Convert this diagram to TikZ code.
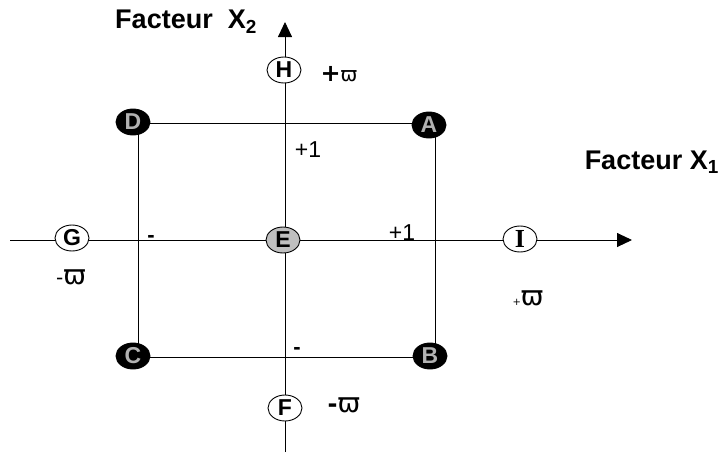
\documentclass[tikz,border=0pt]{standalone}
\usepackage{fontspec}
\setmainfont{Liberation Sans}
\newfontfamily\serifbold{Liberation Serif}
\newfontfamily\greekfont{DejaVu Sans}
\usetikzlibrary{arrows.meta,backgrounds,shapes.geometric}
\begin{document}
\begin{tikzpicture}[x=1pt,y=-1pt,
  pt/.style={ellipse,draw=black,line width=0.9pt,minimum width=34pt,minimum height=26pt,inner sep=0pt,font=\fontsize{23}{23}\selectfont\bfseries},
  wpt/.style={pt,fill=white},
  blk/.style={pt,fill=black,text=black!30},
  gpt/.style={pt,fill=black!25},
  axis/.style={line width=0.9pt,-{Triangle[length=15pt,width=14pt]}},
  edge/.style={line width=0.9pt},
  lbl/.style={inner sep=0pt,font=\fontsize{23}{23}\selectfont},
  ttl/.style={inner sep=0pt,font=\fontsize{27}{27}\selectfont\bfseries},
  om/.style={inner sep=0pt,font=\fontsize{27}{27}\selectfont\greekfont}
]
\useasboundingbox (0,0) rectangle (721,459);
% nodes
\node[blk] (D) at (133,122) {D};
\node[blk] (A) at (429,125) {A};
\node[blk] (C) at (133,356) {C};
\node[blk] (B) at (430,356) {B};
\node[wpt] (H) at (284,70) {H};
\node[wpt] (F) at (285,408) {F};
\node[wpt] (G) at (72,238) {G};
\node[wpt] (I) at (520,239) {\serifbold\fontsize{26}{26}\selectfont\bfseries I};
\node[gpt] (E) at (283,240) {E};
% axis ends and square corners
\coordinate (xl) at (10,240);
\coordinate (xr) at (632,240);
\coordinate (yb) at (285,452);
\coordinate (yt) at (285,22);
\coordinate (cD) at (138,123);
\coordinate (cA) at (435,123);
\coordinate (cB) at (435,357);
\coordinate (cC) at (138,357);
\begin{scope}[on background layer]
\draw[axis] (xl) -- (xr);
\draw[axis] (yb) -- (yt);
\draw[edge] (cD) -- (cA) -- (cB) -- (cC) -- cycle;
\end{scope}
% titles
\node[ttl,anchor=east] (t2) at (257,22) {Facteur\ \ X\textsubscript{2}};
\node[ttl,anchor=east] (t1) at (719,162) {Facteur X\textsubscript{1}};
% labels
\node[lbl] (p1a) at (308,150) {+1};
\node[lbl] (p1b) at (402,233) {+1};
\node[lbl,font=\fontsize{22}{22}\selectfont\bfseries] (m1) at (151,239) {-};
\node[lbl,font=\fontsize{22}{22}\selectfont\bfseries] (m2) at (297,351) {-};
\node[om] (oh) at (339,74) {{\fontsize{24}{24}\selectfont\bfseries +}{\fontsize{20}{20}\selectfont ϖ}};
\node[om] (og) at (71,277) {{\fontsize{20}{20}\selectfont -}ϖ};
\node[om] (oi) at (528,298) {{\fontsize{10}{10}\selectfont +}ϖ};
\node[om] (of) at (344,405) {{\fontsize{24}{24}\selectfont\bfseries -}ϖ};
\end{tikzpicture}
\end{document}
